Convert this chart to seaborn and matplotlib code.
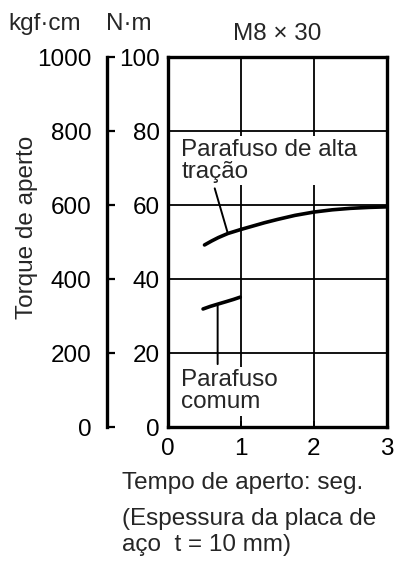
"""Torque de aperto vs tempo de aperto (M8 x 30)
"""

import numpy as np
import pandas as pd
import matplotlib
matplotlib.use("Agg")
import matplotlib.pyplot as plt
import seaborn as sns

# Curves
high_x = [0.50, 0.60, 0.69, 0.82, 1.0, 1.16, 1.32, 1.5, 1.74, 2.0, 2.25, 2.5, 2.75, 3.0]
high_y = [49.2, 50.3, 51.2, 52.3, 53.4, 54.3, 55.2, 56.1, 57.2, 58.1, 58.7, 59.1, 59.35, 59.5]
common_x = [0.48, 0.58, 0.68, 0.8, 0.9, 0.99]
common_y = [31.9, 32.6, 33.2, 33.9, 34.5, 35.1]

nm_ticks = [0, 20, 40, 60, 80, 100]
kgf_ticks = [0, 200, 400, 600, 800, 1000]
x_ticks = [0, 1, 2, 3]

high = pd.DataFrame({"t": high_x, "torque": high_y})
common = pd.DataFrame({"t": common_x, "torque": common_y})

sns.set_theme(style="white")
plt.rcParams["font.family"] = ["Liberation Sans", "DejaVu Sans"]
FS = 17.5

fig = plt.figure(figsize=(4.04, 5.73), dpi=100)
ax = fig.add_axes([168 / 404, 1 - 427 / 573, 219 / 404, 370 / 573])

sns.lineplot(data=high, x="t", y="torque", ax=ax, color="black", linewidth=2.6,
             zorder=4)
sns.lineplot(data=common, x="t", y="torque", ax=ax, color="black", linewidth=2.6,
             zorder=4)

ax.set_xlim(0, 3)
ax.set_ylim(0, 100)
ax.set_xticks(x_ticks)
ax.set_yticks(nm_ticks)
ax.set_xlabel("")
ax.set_ylabel("")
for v in [1, 2]:
    ax.axvline(v, color="black", linewidth=1.3, zorder=1)
for v in [20, 40, 60, 80]:
    ax.axhline(v, color="black", linewidth=1.3, zorder=1)
for s in ax.spines.values():
    s.set_color("black")
    s.set_linewidth(2.4)
ax.tick_params(axis="y", length=0, pad=6, labelsize=FS, colors="black")
ax.tick_params(axis="x", direction="in", length=4, width=1.3, pad=8,
               labelsize=FS, colors="black", bottom=True)

# outer kgf·cm scale
ax2 = ax.twinx()
ax2.set_ylim(0, 1000)
ax2.set_yticks(kgf_ticks)
ax2.yaxis.set_ticks_position("left")
ax2.yaxis.set_label_position("left")
ax2.spines["left"].set_position(("outward", 44))
for name in ["right", "top", "bottom"]:
    ax2.spines[name].set_visible(False)
ax2.spines["left"].set_color("black")
ax2.spines["left"].set_linewidth(2.4)
ax2.tick_params(axis="y", direction="in", length=6, width=1.6, pad=11,
                labelsize=FS, colors="black", left=True, right=False)
ax2.grid(False)

box = dict(facecolor="white", edgecolor="none", pad=1.5)
lead = dict(arrowstyle="-", color="black", lw=1.4, shrinkA=0, shrinkB=0)

ax.text(0.18, 72.0, "Parafuso de alta\ntração", fontsize=FS, ha="left",
        va="center", linespacing=1.0, bbox=box, zorder=5)
ax.annotate("", xy=(0.82, 52.3), xytext=(0.64, 64.5), arrowprops=lead, zorder=3)

ax.text(0.18, 9.6, "Parafuso\ncomum", fontsize=FS, ha="left", va="center",
        linespacing=1.0, bbox=box, zorder=5)
ax.annotate("", xy=(0.68, 33.2), xytext=(0.68, 17.0), arrowprops=lead, zorder=3)

fig.text(8 / 404, 1 - 24 / 573, "kgf·cm", fontsize=FS, ha="left", va="center")
fig.text(106 / 404, 1 - 24 / 573, "N·m", fontsize=FS, ha="left", va="center")
fig.text(277 / 404, 1 - 34 / 573, "M8 × 30", fontsize=FS, ha="center",
         va="center")
fig.text(27 / 404, 1 - 227 / 573, "Torque de aperto", fontsize=FS,
         rotation=90, ha="center", va="center")
fig.text(122 / 404, 1 - 483 / 573, "Tempo de aperto: seg.", fontsize=FS,
         ha="left", va="center")
fig.text(122 / 404, 1 - 532 / 573, "(Espessura da placa de\naço  t = 10 mm)",
         fontsize=FS, ha="left", va="center", linespacing=1.2)

fig.savefig("out.png", dpi=100)
